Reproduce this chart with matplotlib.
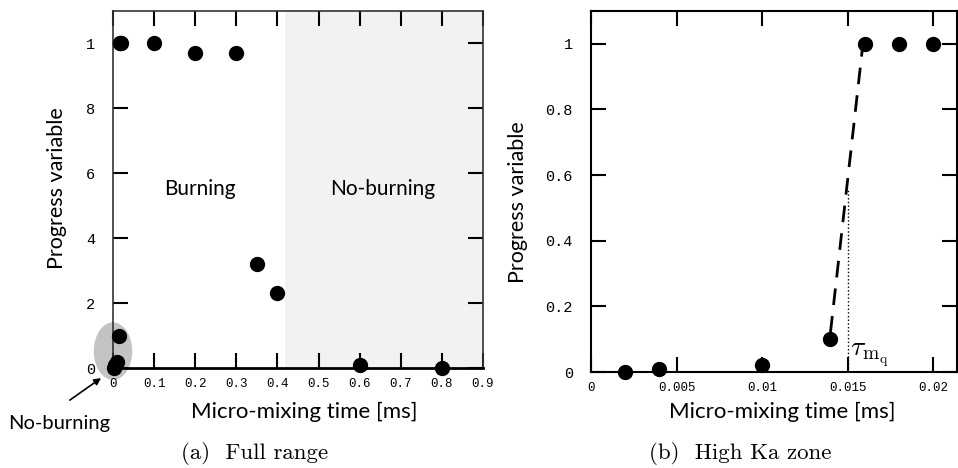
import matplotlib
matplotlib.use("Agg")
import matplotlib.pyplot as plt
from matplotlib.patches import Ellipse

plt.rcParams['mathtext.fontset'] = 'cm'

# data
x_full = [0.002, 0.004, 0.01, 0.014, 0.016, 0.018, 0.02, 0.1, 0.2, 0.3, 0.35, 0.4, 0.6, 0.8]
y_full = [0.0, 0.01, 0.02, 0.1, 1.0, 1.0, 1.0, 1.0, 0.97, 0.97, 0.32, 0.23, 0.01, 0.0]

x_zoom = [0.002, 0.004, 0.01, 0.014, 0.016, 0.018, 0.02]
y_zoom = [0.0, 0.01, 0.02, 0.1, 1.0, 1.0, 1.0]

# jump between the last non burning and first burning point
x_jump = [0.014, 0.0159]
y_jump = [0.12, 1.0]
tau_mq = 0.015

yticks = [0, 0.2, 0.4, 0.6, 0.8, 1.0]
yticklabels_a = ['0', '2', '4', '6', '8', '1']
yticklabels_b = ['0', '0.2', '0.4', '0.6', '0.8', '1']
xticks_a = [0, 0.1, 0.2, 0.3, 0.4, 0.5, 0.6, 0.7, 0.8, 0.9]
xticklabels_a = ['0', '0.1', '0.2', '0.3', '0.4', '0.5', '0.6', '0.7', '0.8', '0.9']
xticks_b = [0, 0.005, 0.01, 0.015, 0.02]
xticklabels_b = ['0', '0.005', '0.01', '0.015', '0.02']
no_burn_start = 0.418

sans = 'Lato'
mono = 'Liberation Mono'

fig = plt.figure(figsize=(9.58, 4.68), dpi=100)
ax1 = fig.add_axes([113/958, 1-368/468, 370/958, 357/468])
ax2 = fig.add_axes([591/958, 1-372/468, 366/958, 361/468])


def style(ax, xt, xtl, ytl):
    ax.set_xticks(xt)
    ax.set_xticklabels(xtl, family=mono, fontsize=9)
    ax.set_yticks(yticks)
    ax.set_yticklabels(ytl, family=mono, fontsize=11)
    ax.tick_params(direction='in', length=11, width=1.5, top=True, right=True)
    ax.tick_params(axis='x', pad=7)
    ax.tick_params(axis='y', pad=13)
    ax.set_ylim(0, 1.1)
    ax.set_ylabel('Progress variable', family=sans, fontsize=15.5)
    ax.set_xlabel('Micro-mixing time [ms]', family=sans, fontsize=16)


# (a) full range
style(ax1, xticks_a, xticklabels_a, yticklabels_a)
ax1.set_xlim(0, 0.9)
ax1.axvspan(no_burn_start, 0.9, color='#f1f2f1', zorder=0, lw=0)
ax1.add_patch(Ellipse((0, 0.052), 0.09, 0.173, color='#c3c3c3', zorder=1, clip_on=False))
ax1.plot(x_full, y_full, 'o', color='black', ms=10, clip_on=False, zorder=3)
ax1.text(0.212, 0.55, 'Burning', family=sans, fontsize=15, ha='center', va='center')
ax1.text(0.657, 0.55, 'No-burning', family=sans, fontsize=15, ha='center', va='center')
ax1.text(-0.13, -0.17, 'No-burning', family=sans, fontsize=14.5, ha='center', va='center', clip_on=False)
ax1.annotate('', xy=(-0.029, -0.031), xytext=(-0.105, -0.099), annotation_clip=False,
             arrowprops=dict(arrowstyle='-|>', color='black', lw=1.2, shrinkA=0, shrinkB=0))
for s in ['top', 'right', 'left']:
    ax1.spines[s].set_linewidth(1.2)
    ax1.spines[s].set_color('#333333')
ax1.spines['bottom'].set_linewidth(2)
ax1.yaxis.set_label_coords(-0.124, 0.505)
ax1.xaxis.set_label_coords(0.516, -0.095)

# (b) high Ka zone
style(ax2, xticks_b, xticklabels_b, yticklabels_b)
ax2.set_xlim(0, 0.0214)
ax2.plot(x_jump, y_jump, color='black', lw=2, dashes=(6, 4))
ax2.plot([tau_mq, tau_mq], [0, 0.556], color='black', lw=1, ls=':')
ax2.plot(x_zoom, y_zoom, 'o', color='black', ms=10, clip_on=False, zorder=3)
ax2.text(0.01515, 0.05, r'$\tau_{\mathrm{m_q}}$', fontsize=20)
for s in ax2.spines.values():
    s.set_linewidth(1.5)
ax2.yaxis.set_label_coords(-0.172, 0.47)
ax2.xaxis.set_label_coords(0.523, -0.083)

fig.text(0.266, 0.032, '(a)  Full range', family='cmr10', fontsize=16.5, ha='center', va='center')
fig.text(0.7725, 0.032, '(b)  High Ka zone', family='cmr10', fontsize=16.5, ha='center', va='center')

fig.savefig('out.png', dpi=100)
